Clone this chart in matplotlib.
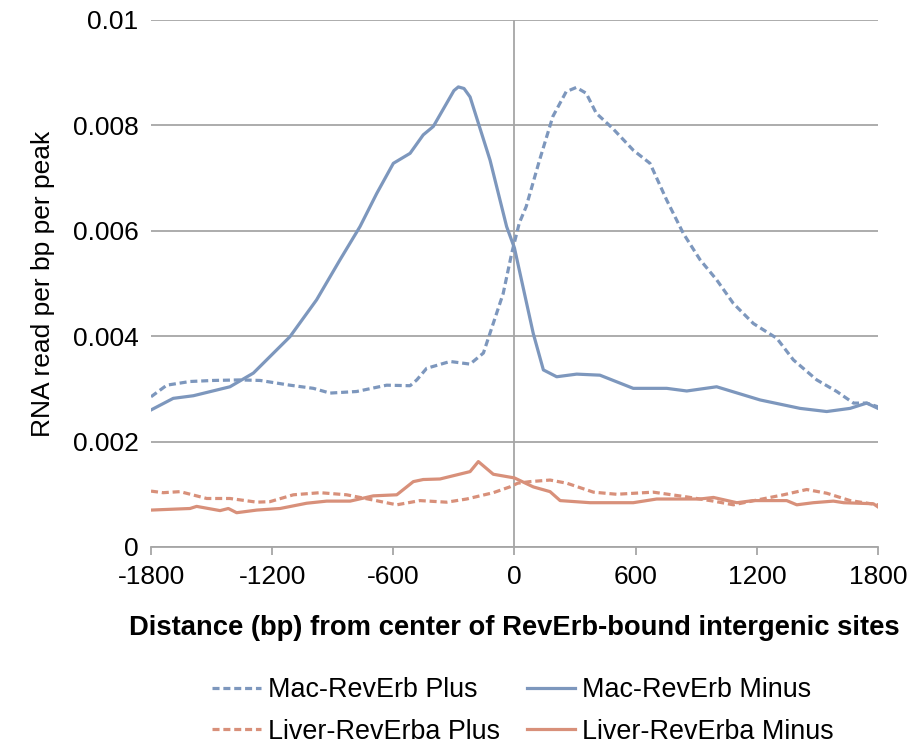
import matplotlib
matplotlib.use("Agg")
import matplotlib.pyplot as plt

plt.rcParams['font.family'] = ['Liberation Sans', 'DejaVu Sans']

# Mac-RevErb Minus (solid blue)
mac_minus_x = [-1800, -1690, -1590, -1409, -1293, -1112, -980, -864, -765, -682, -600, -517, -452, -402,
               -336, -300, -278, -250, -220, -121, -39, 0, 93, 143, 209, 308, 423, 588, 754, 853, 1001, 1216,
               1414, 1546, 1662, 1744, 1800]
mac_minus_y = [0.00260, 0.00282, 0.00287, 0.00304, 0.00330, 0.00399, 0.00469, 0.00545, 0.00608, 0.00671,
               0.00728, 0.00747, 0.00782, 0.00798, 0.00842, 0.00866, 0.00873, 0.00870, 0.00854, 0.00734,
               0.00608, 0.00567, 0.00405, 0.00336, 0.00323, 0.00328, 0.00326, 0.00301, 0.00301, 0.00296,
               0.00304, 0.00279, 0.00263, 0.00257, 0.00263, 0.00273, 0.00263]

# Mac-RevErb Plus (dashed blue)
mac_plus_x = [-1800, -1722, -1607, -1491, -1359, -1260, -1112, -996, -914, -782, -633, -517, -484, -435,
              -319, -220, -154, -121, -56, -14, 24, 58, 124, 190, 256, 306, 355, 405, 487, 588, 671, 754,
              836, 919, 1001, 1084, 1183, 1299, 1381, 1497, 1596, 1679, 1744, 1800]
mac_plus_y = [0.00285, 0.00307, 0.00314, 0.00316, 0.00317, 0.00316, 0.00307, 0.00301, 0.00292, 0.00295,
              0.00307, 0.00306, 0.00317, 0.00339, 0.00352, 0.00347, 0.00368, 0.00406, 0.00481, 0.00557,
              0.00615, 0.00646, 0.00734, 0.00817, 0.00864, 0.00872, 0.00861, 0.00823, 0.00794, 0.00753,
              0.00728, 0.00658, 0.00595, 0.00545, 0.00507, 0.00462, 0.00424, 0.00396, 0.00355, 0.00317,
              0.00295, 0.00273, 0.00273, 0.00266]

# Liver-RevErba Minus (solid orange)
liver_minus_x = [-1800, -1607, -1574, -1458, -1417, -1376, -1276, -1161, -1029, -930, -814, -699, -583,
                 -501, -452, -369, -220, -179, -105, 0, 93, 176, 226, 374, 588, 704, 919, 985, 1101, 1183,
                 1348, 1398, 1480, 1579, 1630, 1777, 1800]
liver_minus_y = [0.00070, 0.00073, 0.00077, 0.00069, 0.00073, 0.00065, 0.00070, 0.00073, 0.00083, 0.00087,
                 0.00087, 0.00097, 0.00099, 0.00124, 0.00128, 0.00129, 0.00143, 0.00162, 0.00138, 0.00131,
                 0.00114, 0.00105, 0.00088, 0.00084, 0.00084, 0.00091, 0.00091, 0.00094, 0.00084, 0.00088,
                 0.00088, 0.00080, 0.00084, 0.00087, 0.00084, 0.00082, 0.00076]

# Liver-RevErba Plus (dashed orange)
liver_plus_x = [-1800, -1740, -1656, -1524, -1409, -1276, -1211, -1095, -963, -831, -699, -583, -468, -336,
                -237, -105, -23, 16, 77, 176, 259, 391, 506, 687, 853, 985, 1084, 1200, 1332, 1447, 1546,
                1662, 1800]
liver_plus_y = [0.00106, 0.00103, 0.00105, 0.00092, 0.00092, 0.00085, 0.00086, 0.00099, 0.00103, 0.00099,
                0.00089, 0.00080, 0.00088, 0.00085, 0.00091, 0.00103, 0.00114, 0.00121, 0.00124, 0.00127,
                0.00121, 0.00104, 0.00100, 0.00104, 0.00095, 0.00087, 0.00080, 0.00089, 0.00099, 0.00109,
                0.00102, 0.00088, 0.00080]

x_ticks = [-1800, -1200, -600, 0, 600, 1200, 1800]
y_ticks = [0, 0.002, 0.004, 0.006, 0.008, 0.01]
y_tick_labels = ["0", "0.002", "0.004", "0.006", "0.008", "0.01"]

blue = "#7D97BD"
orange = "#D8907A"
grid = "#A6A6A6"
FS = 19

fig = plt.figure(figsize=(9.18, 7.46), dpi=100)
ax = fig.add_axes([0.1645, 0.2668, 0.7919, 0.7064])

ax.set_xlim(-1800, 1800)
ax.set_ylim(0, 0.01)
for s in ['top', 'right', 'left']:
    ax.spines[s].set_visible(False)
ax.spines['bottom'].set_color(grid)
ax.spines['bottom'].set_linewidth(1.3)
ax.yaxis.grid(True, color=grid, linewidth=1.3)
ax.set_axisbelow(True)
ax.axvline(0, color=grid, linewidth=1.3, zorder=1)

dash = (0, (2.2, 1.2))
lw = 2.3
l1, = ax.plot(mac_plus_x, mac_plus_y, color=blue, lw=lw, ls=dash, label="Mac-RevErb Plus")
l2, = ax.plot(mac_minus_x, mac_minus_y, color=blue, lw=lw, label="Mac-RevErb Minus")
l3, = ax.plot(liver_plus_x, liver_plus_y, color=orange, lw=lw, ls=dash, label="Liver-RevErba Plus")
l4, = ax.plot(liver_minus_x, liver_minus_y, color=orange, lw=lw, label="Liver-RevErba Minus")

ax.set_xticks(x_ticks)
ax.set_xticklabels([str(t) for t in x_ticks], fontsize=FS)
ax.set_yticks(y_ticks)
ax.set_yticklabels(y_tick_labels, fontsize=FS)
ax.tick_params(axis='x', direction='out', length=6, width=1.3, color=grid, pad=7)
ax.tick_params(axis='y', length=0, pad=9)

ax.set_xlabel("Distance (bp) from center of RevErb-bound intergenic sites", fontsize=19.7,
              fontweight='bold', labelpad=19)
ax.set_ylabel("RNA read per bp per peak", fontsize=FS, labelpad=12.5)

fig.legend(handles=[l1, l3, l2, l4], loc='center', bbox_to_anchor=(523 / 918, 1 - 711 / 746),
           ncol=2, frameon=False, fontsize=19.4, handlelength=1.8, handletextpad=0.25,
           columnspacing=1.0, labelspacing=0.58)

fig.savefig("out.png", dpi=100)
